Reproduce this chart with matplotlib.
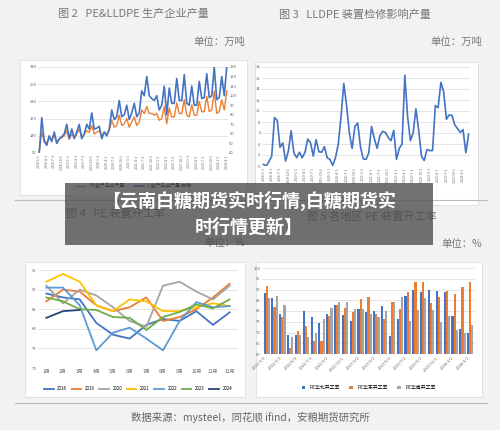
import matplotlib
matplotlib.use("Agg")
import matplotlib.pyplot as plt
import numpy as np

plt.rcParams['font.family'] = ['Noto Sans CJK SC', 'DejaVu Sans']

# ---- data ----
prod_months = [f"{y}-{m}-1" for y in range(2018, 2025) for m in range(1, 13)][:76]
llpe_blue = [40,77,52,48,58,52,62,50,55,57,60,70,55,65,55,62,70,55,60,70,65,82,65,66,
             68,55,62,58,65,85,75,78,95,78,80,90,75,82,92,78,82,105,100,120,100,97,95,100,
             85,90,110,80,108,92,92,118,95,95,122,92,90,110,90,90,115,97,98,123,98,100,130,
             96,98,120,100,130][:76]
pe_orange = [95,150,125,120,135,125,145,120,130,135,140,155,130,145,135,145,160,135,145,155,150,170,145,150,
             155,140,150,145,155,185,165,170,200,170,175,190,165,180,195,170,180,215,205,225,205,205,200,205,
             185,190,225,175,220,195,195,235,205,205,245,200,195,230,200,200,240,210,210,255,210,215,270,
             205,210,245,215,270][:76]
maint = [0.3,0,0.8,1.8,8.8,8.3,3.4,4.2,0.9,2.7,6.4,2.4,1.5,2.5,1.5,2.5,4.9,4.2,1.8,4.8,2.6,2.5,3.5,1.5,
         1.2,0.1,1.5,4,9,15,11,6,3.2,7.2,7.8,3.5,1.3,1.2,2.4,7.2,5,3.2,5.5,6.3,6.1,5.2,4.6,6.5,
         1.2,3.2,4,16.5,9,4.6,6,10.4,6.5,1.8,1,3,2.8,2.8,11,10.6,15.2,13.5,8.5,9.3,9.2,7.5,6.8,6.1,6.6,2.4,5.8]
maint_dates = [f"{2018 + i // 12}-{i % 12 + 1}-1" for i in range(len(maint))]

months_cn = [f"{i}月" for i in range(1, 13)]
rate_years = ['2018', '2019', '2020', '2021', '2022', '2023', '2024']
rate_colors = ['#4472c4', '#ed7d31', '#a5a5a5', '#ffc000', '#5b9bd5', '#70ad47', '#264478']
rates = [
    [89, 88, 87.5, 81.5, 78.5, 77.5, 81, 82.5, 82, 84.5, 81, 84.2],
    [87, 90, 89.5, 86, 84.5, 85.5, 88, 82, 83, 85, 88, 91.5],
    [91, 86.5, 90, 88.5, 85.5, 82, 80.5, 91, 92, 89.5, 87.5, 91],
    [92, 94, 92, 86, 84.5, 87.5, 87, 84.5, 84.5, 85.5, 86.5, 85.8],
    [90.5, 90.5, 86, 74.5, 79, 80.3, 77.5, 74.5, 82, 86.8, 85.5, 85.8],
    [88, 87, 85, 84.8, 83, 82.8, 79.7, 83, 84.3, 86.2, 85.2, 87.5],
    [82.8, 84.5, 84.8],
]

region_dates = [f"{2022 + i // 12}/{i % 12 + 1}/1" for i in range(27)]
region_names = ['PE华北开工率', 'PE华东开工率', 'PE华南开工率']
region_colors = ['#4472c4', '#ed7d31', '#a5a5a5']
north = [88.5,86,78.5,69,69,80,77,74.5,78.5,83,78,75.5,81,79.5,80,82.5,68.5,76.5,87,90,89,90,89.5,89,77.5,71.5,70]
east = [91.5,82,77,63,70.5,73,66,66,77.5,83,81.5,79.5,85.5,86.5,78.5,76.5,84,81,89,93.5,93.5,83.5,86.5,89.5,88,91,93.5]
south = [86,87,83,68,69,68,70,76.5,81.5,84,84,81,81,78.5,77,80,84,86.5,75.5,80.5,86,80.5,75,77.5,71,70,73.5]

W, H = 500, 430
fig = plt.figure(figsize=(5, 4.3), dpi=100, facecolor='#f2f2f2')

def ax_px(x0, y0, x1, y1, z=2):
    a = fig.add_axes([x0 / W, 1 - y1 / H, (x1 - x0) / W, (y1 - y0) / H])
    a.set_zorder(z)
    return a

def box(x0, y0, x1, y1):
    a = ax_px(x0, y0, x1, y1, z=1)
    a.set_xticks([]); a.set_yticks([])
    a.set_facecolor('white')
    for s in a.spines.values():
        s.set_color('#dddddd'); s.set_linewidth(0.6)

def txt(x, y, s, **kw):
    fig.text(x / W, 1 - y / H, s, **kw)

def style(ax, fs=3):
    ax.set_facecolor('white')
    for s in ax.spines.values():
        s.set_visible(False)
    ax.tick_params(length=0, labelsize=fs, colors='#666666', pad=1)
    ax.grid(axis='y', color='#e0e0e0', lw=0.6)
    ax.set_axisbelow(True)

tc = '#777777'
txt(133, 14, "图 2   PE&LLDPE 生产企业产量", fontsize=8, color=tc, ha='center', va='center')
txt(245, 42, "单位：万吨", fontsize=7.5, color=tc, ha='right', va='center')
txt(355, 14, "图 3   LLDPE 装置检修影响产量", fontsize=8, color=tc, ha='center', va='center')
txt(482, 42, "单位：万吨", fontsize=7.5, color=tc, ha='right', va='center')
txt(115, 214, "图 4   PE 装置开工率", fontsize=8, color=tc, ha='center', va='center')
txt(245, 243, "单位：%", fontsize=7.5, color=tc, ha='right', va='center')
txt(372, 217, "图 5 各地区 PE 装置开工率", fontsize=8, color=tc, ha='center', va='center')
txt(482, 244, "单位：%", fontsize=7.5, color=tc, ha='right', va='center')
txt(250, 417, "数据来源：mysteel，同花顺 ifind，安粮期货研究所", fontsize=7.5, color='#666666', ha='center', va='center')
for (x0, x1, y) in [(15, 245, 200), (255, 487, 200), (15, 487, 403)]:
    fig.add_artist(plt.Line2D([x0 / W, x1 / W], [1 - y / H] * 2, color='#bbbbbb', lw=0.8))

# panel 1
box(20, 60, 247, 195)
ax1 = ax_px(38, 67, 228, 153)
style(ax1)
x = np.arange(len(prod_months))
ax1.plot(x, pe_orange, color='#ed7d31', lw=1.0, label='PE生产企业产量')
ax1.set_ylim(90, 340); ax1.set_yticks(range(90, 341, 50))
ax1.set_xticks(x[::3]); ax1.set_xticklabels(prod_months[::3], rotation=90, fontsize=2.5)
ax1.set_xlim(-0.5, len(x) - 0.5)
ax1b = ax1.twinx()
ax1b.plot(x, llpe_blue, color='#4472c4', lw=1.2, label='L生产企业产量 右轴')
ax1b.set_ylim(40, 130); ax1b.set_yticks(range(40, 131, 10))
for s in ax1b.spines.values():
    s.set_visible(False)
ax1b.tick_params(length=0, labelsize=3, colors='#666666', pad=1)
h1 = ax1.get_lines() + ax1b.get_lines()
ax1.legend(h1, [l.get_label() for l in h1], loc='center', bbox_to_anchor=(0.5, -0.38),
           ncol=2, fontsize=3.5, frameon=False, handlelength=2)

# panel 2
box(255, 62, 478, 205)
ax2 = ax_px(262, 67, 470, 166)
style(ax2)
x2 = np.arange(len(maint))
ax2.plot(x2, maint, color='#4472c4', lw=1.2)
ax2.set_ylim(0, 18); ax2.set_yticks(range(0, 19, 2))
ax2.set_xlim(-0.5, len(x2) - 0.5)
ax2.set_xticks(x2[::3]); ax2.set_xticklabels(maint_dates[::3], rotation=90, fontsize=2.5)

# panel 3
box(25, 262, 245, 397)
ax3 = ax_px(38, 270, 238, 368)
style(ax3)
for yr, c, v in zip(rate_years, rate_colors, rates):
    ax3.plot(range(len(v)), v, color=c, lw=1.3, label=yr)
ax3.set_ylim(70, 95); ax3.set_yticks(range(70, 96, 5))
ax3.set_xticks(range(12)); ax3.set_xticklabels(months_cn, fontsize=3.5)
ax3.set_xlim(-0.5, 11.5)
ax3.legend(loc='center', bbox_to_anchor=(0.5, -0.21), ncol=7, fontsize=3.2, frameon=False,
           handlelength=2.2, columnspacing=1.0)

# panel 4
box(256, 262, 482, 397)
ax4 = ax_px(262, 268, 475, 354)
style(ax4)
x4 = np.arange(len(region_dates))
bw = 0.27
for i, (name, c, v) in enumerate(zip(region_names, region_colors, [north, east, south])):
    ax4.bar(x4 + (i - 1) * bw, v, width=bw, color=c, label=name)
ax4.set_ylim(60, 100); ax4.set_yticks(range(60, 101, 5))
ax4.set_xlim(-0.6, len(x4) - 0.4)
ax4.set_xticks(x4[::2]); ax4.set_xticklabels(region_dates[::2], rotation=45, ha='right', fontsize=3)
ax4.legend(loc='center', bbox_to_anchor=(0.5, -0.39), ncol=3, fontsize=3.5, frameon=False,
           handlelength=0.8)

# banner (semi-transparent)
bn = ax_px(65, 183, 433, 245, z=10)
bn.patch.set_facecolor('#4a4a4a'); bn.patch.set_alpha(0.78)
bn.set_xticks([]); bn.set_yticks([])
for s in bn.spines.values():
    s.set_visible(False)
bn.text(0.5, 0.71, "【云南白糖期货实时行情,白糖期货实", fontsize=13, color='white', weight='black',
        ha='center', va='center', transform=bn.transAxes)
bn.text(0.5, 0.29, "时行情更新】", fontsize=13, color='white', weight='black',
        ha='center', va='center', transform=bn.transAxes)

fig.savefig('out.png', dpi=100, facecolor=fig.get_facecolor())
